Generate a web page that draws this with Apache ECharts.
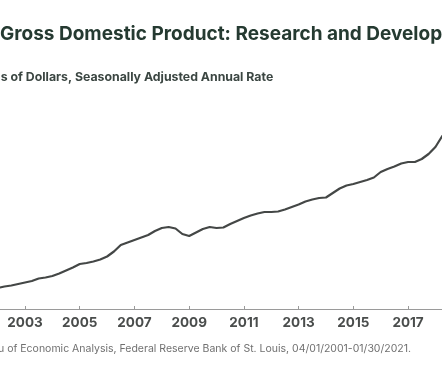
<!DOCTYPE html>
<html>
<head>
<meta charset="utf-8">
<script src="https://cdn.jsdelivr.net/npm/echarts@6/dist/echarts.min.js"></script>
<style>
html,body{margin:0;padding:0;overflow:hidden;background:#fff;width:442px;height:369px;}
#c{position:absolute;left:-60px;top:0;width:640px;height:369px;}
</style>
</head>
<body>
<div id="c"></div>
<script>
// Quarterly observations, 2001 Q2 – 2020 Q4 (decimal year of quarter start)
const quarters = [
 2001.25,2001.5,2001.75,
 2002.0,2002.25,2002.5,2002.75,
 2003.0,2003.25,2003.5,2003.75,
 2004.0,2004.25,2004.5,2004.75,
 2005.0,2005.25,2005.5,2005.75,
 2006.0,2006.25,2006.5,2006.75,
 2007.0,2007.25,2007.5,2007.75,
 2008.0,2008.25,2008.5,2008.75,
 2009.0,2009.25,2009.5,2009.75,
 2010.0,2010.25,2010.5,2010.75,
 2011.0,2011.25,2011.5,2011.75,
 2012.0,2012.25,2012.5,2012.75,
 2013.0,2013.25,2013.5,2013.75,
 2014.0,2014.25,2014.5,2014.75,
 2015.0,2015.25,2015.5,2015.75,
 2016.0,2016.25,2016.5,2016.75,
 2017.0,2017.25,2017.5,2017.75,
 2018.0,2018.25,2018.5,2018.75,
 2019.0,2019.25,2019.5,2019.75,
 2020.0,2020.25,2020.5,2020.75
];
// Billions of dollars, SAAR
const rdValues = [
 288,290,291,
 292,295,297,300,
 303,306,311,313,
 316,321,327,333,
 340,342,345,349,
 355,365,378,383,
 388,393,398,406,
 412,414,411,400,
 396,403,410,414,
 412,413,420,426,
 432,437,441,444,
 444,445,449,454,
 459,465,469,472,
 473,482,491,497,
 500,504,508,513,
 524,530,535,541,
 544,544,550,560,
 574,596,608,620,
 632,642,652,662,
 668,660,672,684
];
const tickYears = ['2001','2003','2005','2007','2009','2011','2013','2015','2017','2019','2021'];

const titleText = 'Gross Domestic Product: Research and Development';
const subtitleText = 'Billions of Dollars, Seasonally Adjusted Annual Rate';
const sourceText = 'Source: U.S. Bureau of Economic Analysis, Federal Reserve Bank of St. Louis, 04/01/2001-01/30/2021.';

const chart = echarts.init(document.getElementById('c'), null, {renderer:'canvas'});
chart.setOption({
  animation:false,
  backgroundColor:'#ffffff',
  title:[
    {text:titleText, left:60, top:25, padding:0,
     textStyle:{fontFamily:'Inter', fontWeight:'bold', fontSize:19, color:'#253a31'}},
    {text:subtitleText, left:24, top:71, padding:0,
     textStyle:{fontFamily:'Inter', fontWeight:'bold', fontSize:12.3, color:'#3b4642'}},
    {text:sourceText, right:169, top:343, padding:0,
     textStyle:{fontFamily:'Inter', fontWeight:'normal', fontSize:10.5, color:'#707070'}}
  ],
  grid:{left:30.3, right:62.5, top:84, bottom:60, containLabel:false},
  xAxis:{
    type:'value', min:2001, max:2021, interval:2,
    axisLine:{show:true, lineStyle:{color:'#9a9a9a', width:1}},
    axisTick:{show:true, inside:true, length:3, lineStyle:{color:'#9a9a9a'}},
    splitLine:{show:false},
    axisLabel:{
      margin:7,
      fontFamily:'Inter', fontWeight:'bold', fontSize:13.5, color:'#4a4d4c',
      formatter:function(v){ const s=String(Math.round(v)); return tickYears.indexOf(s)>=0?s:''; }
    }
  },
  yAxis:{
    type:'value', min:250, max:700,
    show:false, splitLine:{show:false}
  },
  series:[{
    type:'line',
    data:quarters.map((q,i)=>[q, rdValues[i]]),
    showSymbol:false,
    lineStyle:{color:'#444746', width:2.2},
    smooth:false
  }]
});
</script>
</body>
</html>
